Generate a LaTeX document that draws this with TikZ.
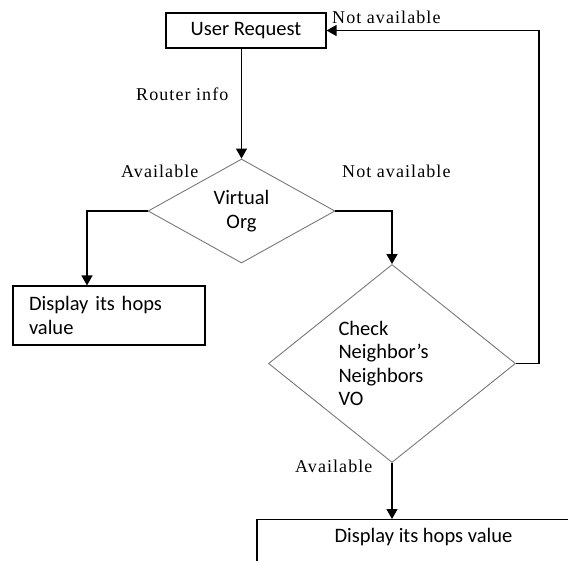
\documentclass[tikz,border=0pt]{standalone}
\usepackage{fontspec}
\usetikzlibrary{shapes.geometric, arrows.meta}
\newfontfamily\boxfont{Carlito}
\newfontfamily\lblfont[LetterSpace=6]{Liberation Serif}
\definecolor{edge}{RGB}{120, 120, 120}

\begin{document}
\begin{tikzpicture}[x=1pt, y=-1pt,
  box/.style={draw, line width=1.1pt, inner sep=0pt,
    font=\boxfont\fontsize{20.5}{23.5}\selectfont},
  decide/.style={diamond, draw=edge, line width=0.9pt, inner sep=0pt,
    font=\boxfont\fontsize{20.5}{23.5}\selectfont},
  lbl/.style={inner sep=0pt, anchor=base west,
    font=\lblfont\fontsize{18}{20}\selectfont},
  flow/.style={line width=1.2pt, -{Triangle[length=10pt, width=11pt]}}]

  \useasboundingbox (0, 0) rectangle (568, 560);
  \clip (0, 0) rectangle (568, 560);

  % boxes and decisions
  \node[box, minimum width=160, minimum height=35] (request) at (246, 30.5) {User Request};
  \node[decide, minimum width=187, minimum height=104, align=center] (vo) at (241.5, 211) {Virtual\\Org};
  \node[box, minimum width=192, minimum height=59, text width=160, align=left] (hops1) at (109, 315.5)
    {Display its hops\\value};
  \node[decide, minimum width=247, minimum height=198, text width=107, align=left] (nbr) at (392, 363.5)
    {Check\\Neighbor’s\\Neighbors\\VO};
  \node[box, anchor=north, minimum width=333, text height=23, text depth=40] (hops2) at (423.5, 519)
    {Display its hops value};

  % connectors
  \draw[flow] (vo.north |- request.south) -- (vo.north);
  \draw[flow] (vo.west) -| ([xshift=-22pt]hops1.north);
  \draw[flow] (vo.east) -| (nbr.north);
  \draw[flow] (nbr.east) -- +(23, 0) |- (request.east);
  \draw[flow] (nbr.south) -- (nbr.south |- hops2.north);

  % labels
  \node[lbl] (router) at (136, 100) {Router info};
  \node[lbl] (avail1) at (121, 177) {Available};
  \node[lbl] (navail1) at (342, 177) {Not available};
  \node[lbl] (navail2) at (332, 23) {Not available};
  \node[lbl] (avail2) at (295, 472) {Available};

\end{tikzpicture}
\end{document}
